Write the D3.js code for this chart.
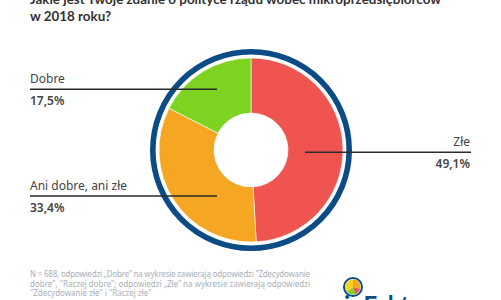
<!DOCTYPE html>
<html>
<head>
<meta charset="utf-8">
<script src="https://cdn.jsdelivr.net/npm/d3@7"></script>
<style>
  body { margin: 0; background: #fff; }
  svg { display: block; font-family: "Noto Sans", Lato, sans-serif; }
</style>
</head>
<body>
<script>
// data
var categories = ["Złe", "Ani dobre, ani złe", "Dobre"];
var values = [49.1, 33.4, 17.5];
var colors = ["#ef5451", "#f5a623", "#7ed321"];
var titleLines = ["Jakie jest Twoje zdanie o polityce rządu wobec mikroprzedsiębiorców", "w 2018 roku?"];
var noteLines = [
  "N = 688, odpowiedzi „Dobre” na wykresie zawierają odpowiedzi \"Zdecydowanie",
  "dobre\", \"Raczej dobre\"; odpowiedzi „Złe” na wykresie zawierają odpowiedzi",
  "\"Zdecydowanie złe\" i \"Raczej złe\""
];

var width = 501, height = 300;
var cx = 251, cy = 150;
var navy = "#0b4c86";

var svg = d3.select("body").append("svg")
    .attr("width", width)
    .attr("height", height);

// title (first line runs off the top)
svg.append("g").selectAll("text")
    .data(titleLines)
    .enter().append("text")
    .attr("x", 30)
    .attr("y", function(d, i) { return 4 + i * 17; })
    .attr("font-family", "Lato, sans-serif")
    .attr("font-size", 13.4)
    .attr("font-weight", "bold")
    .attr("fill", "#333")
    .text(function(d) { return d; });

// outer ring
svg.append("circle")
    .attr("cx", cx).attr("cy", cy)
    .attr("r", 98.2)
    .attr("fill", "none")
    .attr("stroke", navy)
    .attr("stroke-width", 5.6);

var pie = d3.pie().sort(null).value(function(d) { return d; });
var arc = d3.arc().innerRadius(37).outerRadius(92);

var g = svg.append("g").attr("transform", "translate(" + cx + "," + cy + ")");
g.selectAll("path")
    .data(pie(values))
    .enter().append("path")
    .attr("d", arc)
    .attr("fill", function(d, i) { return colors[i]; })
    .attr("stroke", "#fff")
    .attr("stroke-width", 0.6);

// labels: line y, line x range, text anchor
var labelLayout = {
  "Złe": { y: 152.3, x1: 305, x2: 471, anchor: "end" },
  "Ani dobre, ani złe": { y: 196, x1: 30, x2: 217, anchor: "start" },
  "Dobre": { y: 89.3, x1: 30, x2: 217, anchor: "start" }
};

var fmt = function(v) { return d3.format(".1f")(v).replace(".", ",") + "%"; };

var lab = svg.append("g").selectAll("g")
    .data(categories)
    .enter().append("g");

lab.append("line")
    .attr("x1", function(d) { return labelLayout[d].x1; })
    .attr("x2", function(d) { return labelLayout[d].x2; })
    .attr("y1", function(d) { return labelLayout[d].y; })
    .attr("y2", function(d) { return labelLayout[d].y; })
    .attr("stroke", "#2b2b2b")
    .attr("stroke-width", 1.4);

lab.append("text")
    .attr("x", function(d) { var l = labelLayout[d]; return l.anchor == "end" ? l.x2 - 1 : l.x1; })
    .attr("y", function(d) { return labelLayout[d].y - 6; })
    .attr("text-anchor", function(d) { return labelLayout[d].anchor; })
    .attr("font-size", 12)
    .attr("fill", "#444")
    .text(function(d) { return d; });

lab.append("text")
    .attr("x", function(d) { var l = labelLayout[d]; return l.anchor == "end" ? l.x2 - 1 : l.x1; })
    .attr("y", function(d) { return labelLayout[d].y + 15.5; })
    .attr("text-anchor", function(d) { return labelLayout[d].anchor; })
    .attr("font-size", 12)
    .attr("font-weight", 600)
    .attr("fill", "#444")
    .text(function(d, i) { return fmt(values[i]); });

// footnote
svg.append("g").selectAll("text")
    .data(noteLines)
    .enter().append("text")
    .attr("x", 30)
    .attr("y", function(d, i) { return 277 + i * 9.5; })
    .attr("font-size", 8)
    .attr("fill", "#a9b0b8")
    .each(function(d, i) {
      if (i < noteLines.length - 1) {
        d3.select(this).attr("textLength", 280).attr("lengthAdjust", "spacing");
      }
    })
    .text(function(d) { return d; });

// logo (cut off at the bottom)
var logo = svg.append("g");
logo.append("text")
    .attr("x", 344)
    .attr("y", 314)
    .attr("font-family", "Lato, sans-serif")
    .attr("font-size", 24)
    .attr("font-weight", "bold")
    .attr("fill", navy)
    .text("ioFakt");
var lg = logo.append("g").attr("transform", "translate(353,287)");
lg.append("circle").attr("r", 9).attr("fill", "#fff").attr("stroke", navy).attr("stroke-width", 2);
var logoPie = d3.pie().sort(null).value(function(d) { return d; });
lg.selectAll("path")
    .data(logoPie([30, 15, 20, 35]))
    .enter().append("path")
    .attr("d", d3.arc().innerRadius(0).outerRadius(7.5))
    .attr("fill", function(d, i) { return ["#f5a623", "#ef5451", "#7ed321", "#f8d21c"][i]; });
</script>
</body>
</html>
